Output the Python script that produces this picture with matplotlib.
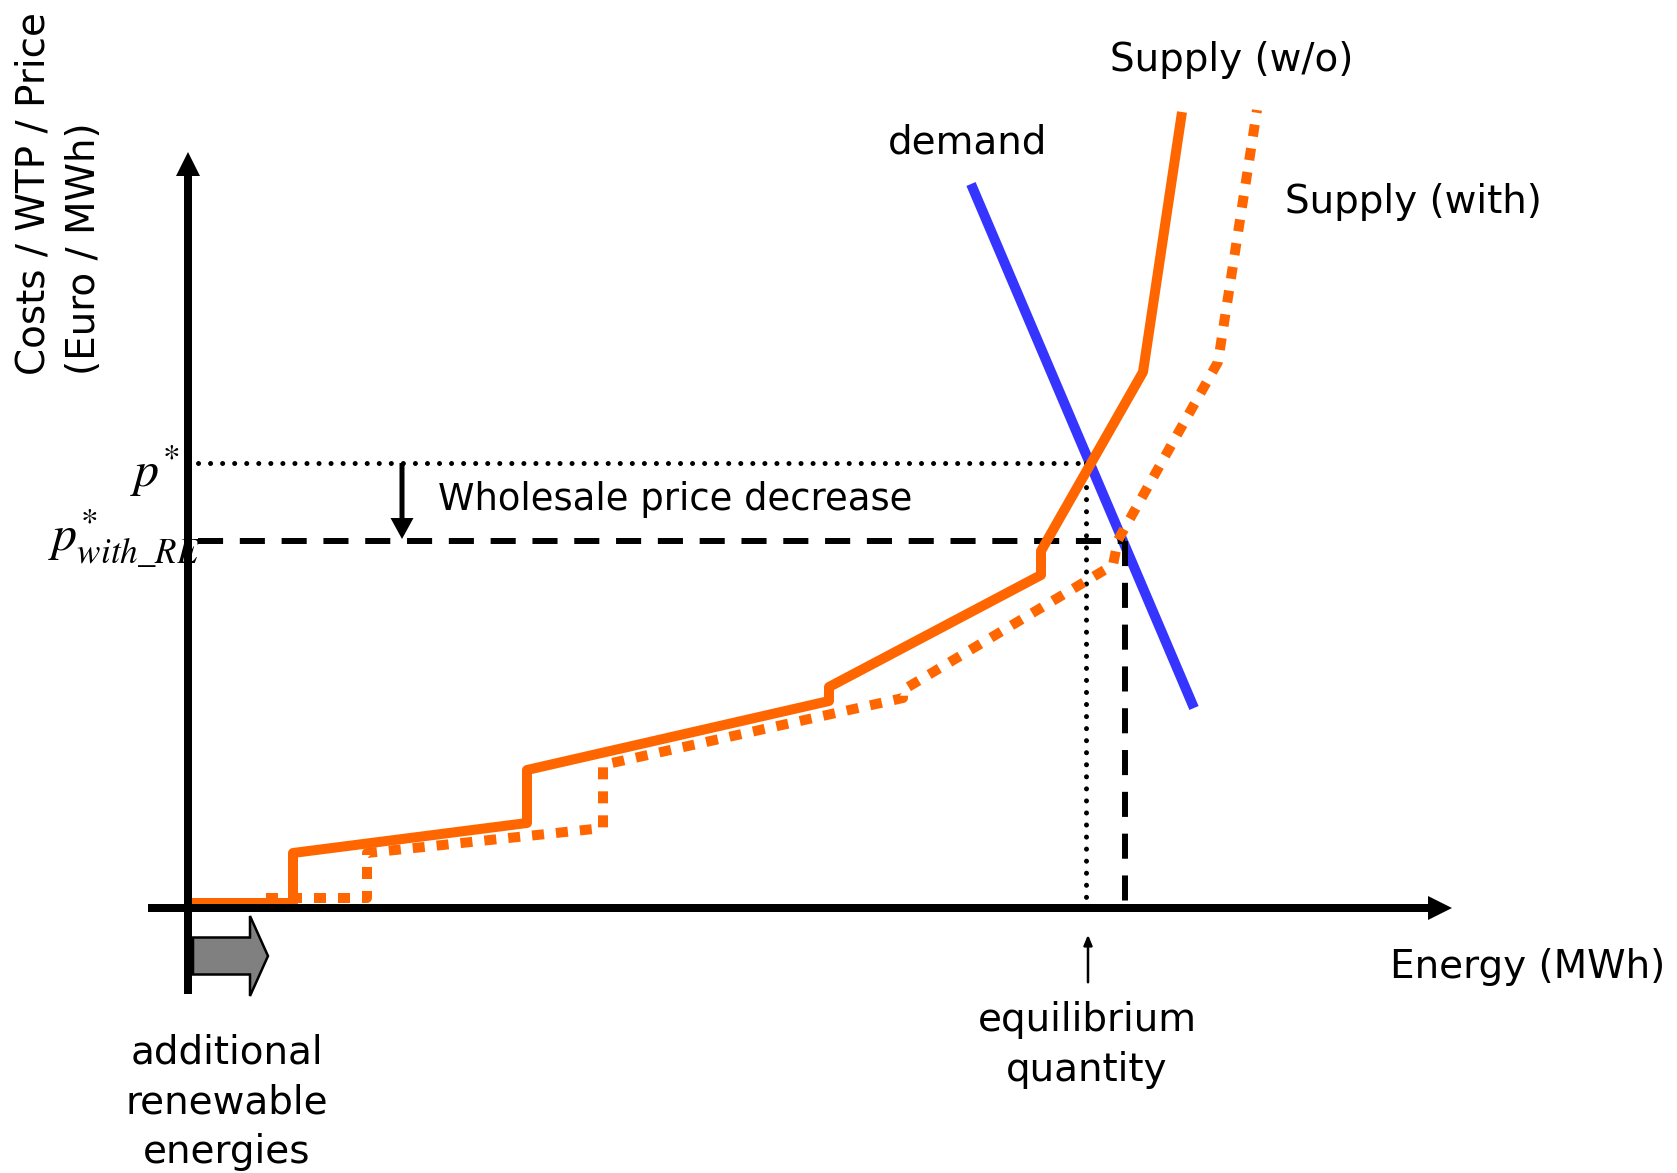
import numpy as np
import matplotlib.pyplot as plt

# curve points: x = energy, y = price (arbitrary units, origin at axis crossing)
supply_wo_x = [0, 105, 105, 339, 339, 641, 641, 853, 853, 955, 994]
supply_wo_y = [5, 5, 55, 85, 138, 207, 221, 333, 357, 536, 796]

supply_with_x = [78, 179, 179, 415, 415, 715, 715, 925, 930, 1030, 1069]
supply_with_y = [10, 10, 55, 80, 143, 210, 218, 343, 368, 546, 798]

demand_x = [783, 1006]
demand_y = [724, 200]

p_star = 445
p_star_re = 367
q_star = 898
q_star_re = 937

ORANGE = '#FF6600'
BLUE = '#3535FF'
FS = 28

plt.rcParams['mathtext.fontset'] = 'stix'

fig = plt.figure(figsize=(16.77, 11.73), dpi=100)
ax = fig.add_axes([0, 0, 1, 1])
ax.set_xlim(-188, 1489)
ax.set_ylim(-265, 908)
ax.axis('off')

# axes with arrow heads
ax.arrow(0, -86, 0, 842, width=8, head_width=24, head_length=24,
         length_includes_head=True, fc='k', ec='none', zorder=5)
ax.arrow(-40, 0, 1304, 0, width=8, head_width=24, head_length=24,
         length_includes_head=True, fc='k', ec='none', zorder=5)

# price / quantity guides
ax.plot([10, q_star], [p_star, p_star], color='k', lw=3.6,
        linestyle=(0, (0.01, 2.4)), dash_capstyle='round', zorder=3)
ax.plot([q_star, q_star], [p_star, 0], color='k', lw=3.6,
        linestyle=(0, (0.01, 2.4)), dash_capstyle='round', zorder=3)
ax.plot([10, q_star_re], [p_star_re, p_star_re], color='k', lw=4.3,
        linestyle=(0, (4.2, 2.8)), zorder=3)
ax.plot([q_star_re, q_star_re], [p_star_re, 0], color='k', lw=4.3,
        linestyle=(0, (4.2, 2.8)), zorder=3)

# curves
ax.plot(demand_x, demand_y, color=BLUE, lw=7.2, solid_capstyle='butt', zorder=2)
ax.plot(supply_with_x, supply_with_y, color=ORANGE, lw=7.2,
        linestyle=(0, (1.2, 1.2)), dash_capstyle='butt', zorder=4)
ax.plot(supply_wo_x, supply_wo_y, color=ORANGE, lw=7.2,
        solid_joinstyle='round', solid_capstyle='butt', zorder=4)

# price decrease arrow
ax.arrow(214, p_star, 0, p_star_re - p_star + 2, width=5, head_width=23,
         head_length=21, length_includes_head=True, fc='k', ec='none', zorder=5)
ax.text(250, 408, 'Wholesale price decrease', fontsize=26.6, ha='left', va='center')

# equilibrium quantity arrow
ax.annotate('', xy=(q_star + 2, -24), xytext=(q_star + 2, -77),
            arrowprops=dict(arrowstyle='-|>,head_length=0.6,head_width=0.25',
                            color='k', lw=1.8))
ax.text(q_star + 1, -137, 'equilibrium\nquantity', fontsize=FS,
        ha='center', va='center', linespacing=1.37)

# additional renewables arrow
ax.arrow(5, -48, 75, 0, width=37, head_width=80, head_length=18,
         length_includes_head=True, fc='#808080', ec='k', lw=1.8, zorder=5)
ax.text(39, -194, 'additional\nrenewable\nenergies', fontsize=FS,
        ha='center', va='center', linespacing=1.39)

# curve labels
ax.text(1044, 848, 'Supply (w/o)', fontsize=FS, ha='center', va='center')
ax.text(780, 766, 'demand', fontsize=FS, ha='center', va='center')
ax.text(1225, 706, 'Supply (with)', fontsize=FS, ha='center', va='center')
ax.text(1340, -59, 'Energy (MWh)', fontsize=FS, ha='center', va='center')
ax.text(-129, 533, 'Costs / WTP / Price\n(Euro / MWh)', fontsize=FS,
        rotation=90, ha='center', va='bottom', multialignment='left',
        linespacing=1.43)

# price labels
ax.text(-9, 421, r'$p^{*}$', fontsize=36, ha='right', va='baseline')
ax.text(-140, 357, r'$p^{*}_{with\_RE}$', fontsize=36, ha='left', va='baseline')

fig.savefig('out.png', dpi=100)
